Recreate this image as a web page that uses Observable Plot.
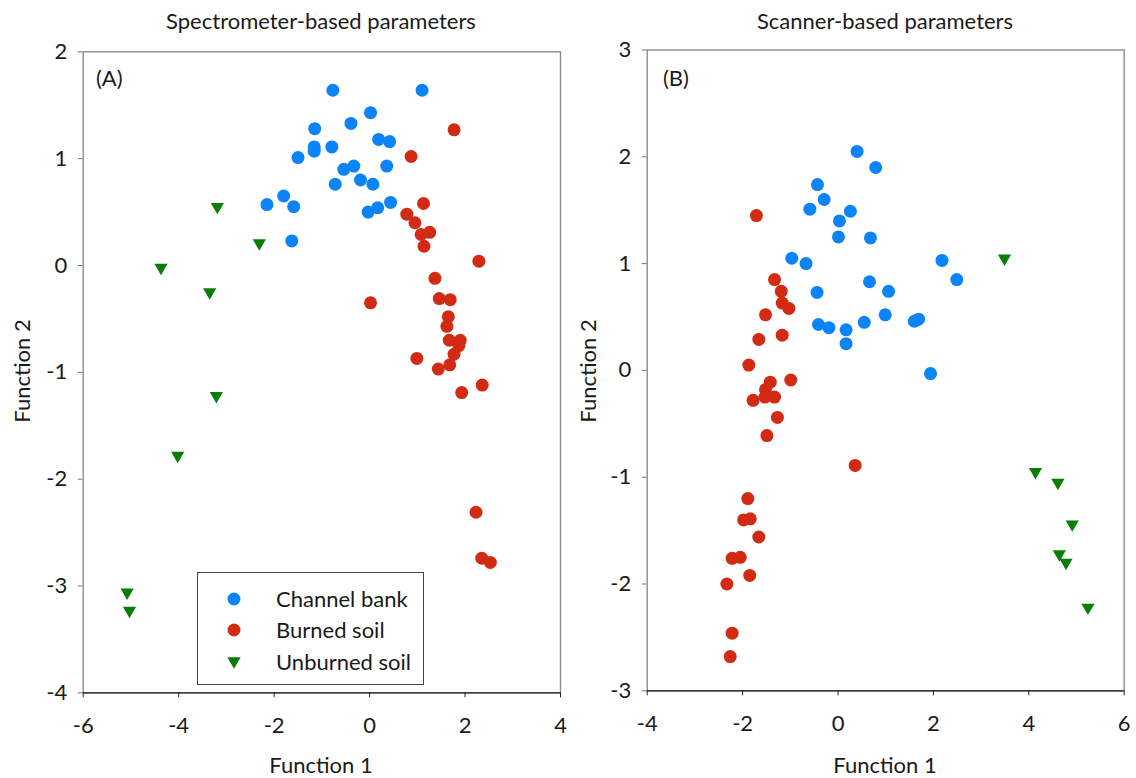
<!DOCTYPE html>
<html>
<head>
<meta charset="utf-8">
<script src="https://cdn.jsdelivr.net/npm/d3@7"></script>
<script src="https://cdn.jsdelivr.net/npm/@observablehq/plot@0.6"></script>
<style>
  body { margin: 0; background: #fff; font-family: Lato, "Open Sans", sans-serif; color: #1a1a1a; }
  #wrap { position: relative; width: 1136px; height: 778px; overflow: hidden; }
  .panel { position: absolute; top: 0; }
  .lbl { position: absolute; font-size: 22px; white-space: nowrap; line-height: 1; }
  .center { transform: translateX(-50%); }
  .vert { transform: translate(-50%, -50%) rotate(-90deg); }
  .legend { position: absolute; border: 1px solid #444; background: #fff; box-sizing: border-box; }
  .legend .row { position: absolute; left: 0; display: flex; align-items: center; font-size: 22px; white-space: nowrap; }
  .legend svg { display: block; }
</style>
</head>
<body>
<div id="wrap"></div>
<script>
// Group names and their colours
const groups = ["Channel bank", "Burned soil", "Unburned soil"];
const groupColors = ["#0a84f8", "#d32a14", "#077f07"];

// Axis ticks
const specXTicks = [-6, -4, -2, 0, 2, 4];
const specYTicks = [-4, -3, -2, -1, 0, 1, 2];
const scanXTicks = [-4, -2, 0, 2, 4, 6];
const scanYTicks = [-3, -2, -1, 0, 1, 2, 3];

// (A) Spectrometer-based discriminant scores [Function 1, Function 2]
const specChannel = [
  [-0.77, 1.64], [1.10, 1.64], [0.02, 1.43], [-0.39, 1.33], [-1.15, 1.28],
  [0.19, 1.18], [0.42, 1.16], [-1.16, 1.11], [-1.16, 1.07], [-0.79, 1.11],
  [-1.50, 1.01], [-0.54, 0.90], [-0.33, 0.93], [0.36, 0.93], [-0.19, 0.80],
  [0.07, 0.76], [-0.72, 0.76], [0.44, 0.59], [-0.03, 0.50], [0.17, 0.54],
  [-2.15, 0.57], [-1.80, 0.65], [-1.59, 0.55], [-1.63, 0.23]
];
const specBurned = [
  [1.77, 1.27], [0.87, 1.02], [1.13, 0.58], [0.78, 0.48], [0.95, 0.40],
  [1.08, 0.29], [1.26, 0.31], [1.14, 0.18], [2.29, 0.04], [1.37, -0.12],
  [0.02, -0.35], [1.46, -0.31], [1.69, -0.32], [1.65, -0.48], [1.62, -0.57],
  [1.67, -0.70], [1.90, -0.70], [1.87, -0.75], [1.77, -0.83], [1.68, -0.93],
  [0.99, -0.87], [1.44, -0.97], [2.36, -1.12], [1.93, -1.19], [2.23, -2.31],
  [2.35, -2.74], [2.53, -2.78]
];
const specUnburned = [
  [-3.19, 0.55], [-2.31, 0.21], [-4.37, -0.02], [-3.35, -0.25],
  [-3.21, -1.22], [-4.02, -1.78], [-5.08, -3.06], [-5.03, -3.23]
];

// (B) Scanner-based discriminant scores [Function 1, Function 2]
const scanChannel = [
  [0.40, 2.05], [0.79, 1.90], [-0.43, 1.74], [-0.29, 1.60], [-0.59, 1.51],
  [0.26, 1.49], [0.03, 1.40], [0.01, 1.25], [0.68, 1.24], [-0.97, 1.05],
  [-0.67, 1.00], [0.66, 0.83], [-0.44, 0.73], [1.06, 0.74], [2.18, 1.03],
  [2.49, 0.85], [-0.41, 0.43], [-0.19, 0.40], [0.17, 0.38], [0.17, 0.25],
  [0.55, 0.45], [0.99, 0.52], [1.60, 0.46], [1.69, 0.48], [1.94, -0.03]
];
const scanBurned = [
  [-1.71, 1.45], [-1.33, 0.85], [-1.19, 0.74], [-1.17, 0.63], [-1.03, 0.58],
  [-1.52, 0.52], [-1.66, 0.29], [-1.17, 0.33], [-1.87, 0.05], [-0.99, -0.09],
  [-1.42, -0.11], [-1.52, -0.18], [-1.78, -0.28], [-1.53, -0.25], [-1.33, -0.25],
  [-1.27, -0.44], [-1.49, -0.61], [0.36, -0.89], [-1.89, -1.20], [-1.98, -1.40],
  [-1.84, -1.39], [-1.66, -1.56], [-2.22, -1.76], [-2.05, -1.75], [-1.85, -1.92],
  [-2.33, -2.00], [-2.22, -2.46], [-2.26, -2.68]
];
const scanUnburned = [
  [3.49, 1.05], [4.14, -0.95], [4.61, -1.05], [4.91, -1.44],
  [4.64, -1.72], [4.78, -1.80], [5.24, -2.22]
];

const wrap = document.getElementById("wrap");
const fmt = d => String(d);

function scatter({channel, burned, unburned, xDomain, yDomain, xTicks, yTicks, width, margins}) {
  return Plot.plot({
    width,
    height: 778,
    marginTop: margins[0],
    marginRight: margins[1],
    marginBottom: margins[2],
    marginLeft: margins[3],
    x: {domain: xDomain, label: null},
    y: {domain: yDomain, label: null},
    style: {fontFamily: "Lato, 'Open Sans', sans-serif", fontSize: "22px", color: "#1a1a1a", background: "transparent", overflow: "visible"},
    marks: [
      Plot.frame({stroke: "#8c8c8c", strokeWidth: 1.4}),
      Plot.ruleY([yDomain[0]], {stroke: "#222", strokeWidth: 1.3}),
      Plot.axisX({ticks: xTicks, tickFormat: fmt, tickSize: 5, tickPadding: 20, stroke: "#222", label: null}),
      Plot.axisY({ticks: yTicks, tickFormat: fmt, tickSize: 5, tickPadding: 11, stroke: "#777", label: null}),
      Plot.dot(channel, {x: d => d[0], y: d => d[1], r: 6.5, fill: groupColors[0]}),
      Plot.dot(burned, {x: d => d[0], y: d => d[1], r: 6.5, fill: groupColors[1]}),
      Plot.dot(unburned, {x: d => d[0], y: d => d[1], r: 4.9, symbol: "triangle", rotate: 180, fill: groupColors[2]})
    ]
  });
}

function place(node, left) {
  node.classList.add("panel");
  node.style.left = left + "px";
  wrap.appendChild(node);
}

place(scatter({
  channel: specChannel, burned: specBurned, unburned: specUnburned,
  xDomain: [-6, 4], yDomain: [-4, 2], xTicks: specXTicks, yTicks: specYTicks,
  width: 575, margins: [51.3, 15, 85.7, 82.7]
}), 0);

place(scatter({
  channel: scanChannel, burned: scanBurned, unburned: scanUnburned,
  xDomain: [-4, 6], yDomain: [-3, 3], xTicks: scanXTicks, yTicks: scanYTicks,
  width: 561, margins: [49.5, 12.3, 87.7, 71.7]
}), 575);

// Titles, axis titles and panel tags
function label(text, x, y, cls) {
  const el = document.createElement("div");
  el.className = "lbl " + (cls || "");
  el.textContent = text;
  el.style.left = x + "px";
  el.style.top = y + "px";
  wrap.appendChild(el);
  return el;
}
label("Spectrometer-based parameters", 321, 10, "center");
label("Scanner-based parameters", 885, 10, "center");
label("Function 1", 321, 754, "center");
label("Function 1", 885, 754, "center");
label("Function 2", 22, 371, "vert");
label("Function 2", 588, 371, "vert");
label("(A)", 96, 67);
label("(B)", 663, 67);

// Legend inside panel A
const legend = document.createElement("div");
legend.className = "legend";
Object.assign(legend.style, {left: "197px", top: "572px", width: "227px", height: "113px"});
const rowTops = [12, 43, 75];
groups.forEach((g, i) => {
  const row = document.createElement("div");
  row.className = "row";
  row.style.top = (rowTops[i]) + "px";
  const sym = i < 2
    ? `<svg width="78" height="24"><circle cx="36" cy="12" r="6.5" fill="${groupColors[i]}"/></svg>`
    : `<svg width="78" height="24"><path d="M29.3,7.2 L42.7,7.2 L36,18.8 Z" fill="${groupColors[i]}"/></svg>`;
  row.innerHTML = sym + `<span>${g}</span>`;
  legend.appendChild(row);
});
wrap.appendChild(legend);
</script>
</body>
</html>
